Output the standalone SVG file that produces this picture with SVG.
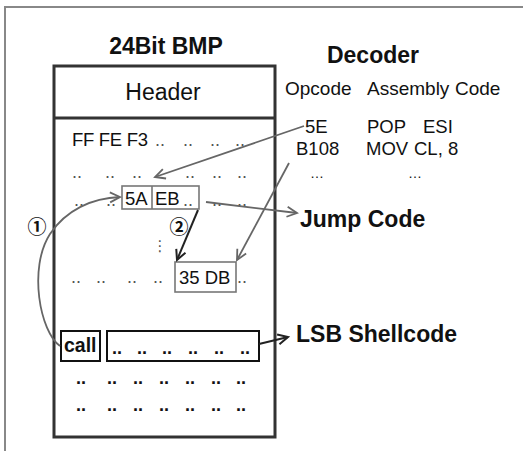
<svg xmlns="http://www.w3.org/2000/svg" width="523" height="451" viewBox="0 0 523 451">
<style>
.t{font-family:"Liberation Sans",Arial,sans-serif;fill:#111}
.b{font-weight:bold}
.g{font-family:"Liberation Sans",Arial,sans-serif;font-size:18px;fill:#555;text-anchor:middle}
.k{font-family:"Liberation Sans",Arial,sans-serif;font-size:18px;font-weight:bold;fill:#111;text-anchor:middle}
.num{font-family:"Noto Sans CJK JP","DejaVu Sans",sans-serif;font-size:19px;font-weight:bold;fill:#111;text-anchor:middle}
.ga{fill:none;stroke:#666;stroke-width:1.8;marker-end:url(#ag)}
.ka{fill:none;stroke:#222;stroke-width:2;marker-end:url(#ak)}
</style>
<defs>
<marker id="ag" markerUnits="userSpaceOnUse" markerWidth="14" markerHeight="14" refX="11" refY="6" orient="auto">
<path d="M1,1 L11,6 L1,11" fill="none" stroke="#666" stroke-width="1.8"/>
</marker>
<marker id="ak" markerUnits="userSpaceOnUse" markerWidth="14" markerHeight="14" refX="11" refY="6" orient="auto">
<path d="M1,1 L11,6 L1,11" fill="none" stroke="#222" stroke-width="2"/>
</marker>
</defs>
<rect width="523" height="451" fill="#fff"/>
<path d="M5,451 V7 H523" fill="none" stroke="#888" stroke-width="2"/>

<g id="bmp">
<text class="t b" x="166" y="54" font-size="23" text-anchor="middle">24Bit BMP</text>
<rect x="54" y="66" width="221" height="371" fill="none" stroke="#333" stroke-width="3"/>
<line x1="54" y1="118" x2="275" y2="118" stroke="#333" stroke-width="3"/>
<text class="t" x="163" y="100" font-size="23" text-anchor="middle">Header</text>
<text class="t" x="72" y="146" font-size="18.5" letter-spacing="-0.3">FF FE F3</text>
<text class="g" x="160" y="146">..</text><text class="g" x="188" y="146">..</text><text class="g" x="215" y="146">..</text><text class="g" x="240" y="146">..</text>
<text class="g" x="77" y="178">..</text><text class="g" x="110" y="178">..</text><text class="g" x="137" y="178">..</text><text class="g" x="190" y="178">..</text><text class="g" x="217" y="178">..</text><text class="g" x="242" y="178">..</text>
<text class="g" x="79" y="206">..</text><text class="g" x="111" y="206">..</text><text class="g" x="217" y="206">..</text><text class="g" x="242" y="206">..</text>
<text x="160" y="251" font-family="DejaVu Sans,sans-serif" font-size="15" fill="#555" text-anchor="middle">⋮</text>
<text class="g" x="76" y="283">..</text><text class="g" x="101" y="283">..</text><text class="g" x="132" y="283">..</text><text class="g" x="158" y="283">..</text><text class="g" x="242" y="283">..</text>
<text class="k" x="81" y="384">..</text><text class="k" x="112" y="384">..</text><text class="k" x="138" y="384">..</text><text class="k" x="164" y="384">..</text><text class="k" x="190" y="384">..</text><text class="k" x="216" y="384">..</text><text class="k" x="241" y="384">..</text>
<text class="k" x="81" y="411">..</text><text class="k" x="112" y="411">..</text><text class="k" x="138" y="411">..</text><text class="k" x="164" y="411">..</text><text class="k" x="190" y="411">..</text><text class="k" x="216" y="411">..</text><text class="k" x="241" y="411">..</text>
</g>

<g id="jump-box">
<rect x="122" y="186" width="77" height="23" fill="#fff" stroke="#777" stroke-width="1.6"/>
<line x1="152" y1="186" x2="152" y2="209" stroke="#777" stroke-width="1.6"/>
<text class="t" x="125" y="205" font-size="18.5">5A</text>
<text class="t" x="155" y="205" font-size="18.5">EB</text>
<text class="g" x="188" y="206">..</text>
</g>

<g id="target-box">
<rect x="175" y="262" width="61" height="30" fill="#fff" stroke="#777" stroke-width="1.6"/>
<text class="t" x="179" y="284" font-size="18.5">35 DB</text>
</g>

<g id="call-box">
<rect x="61" y="331" width="39" height="30" fill="#fff" stroke="#111" stroke-width="2"/>
<text class="t b" x="64" y="352" font-size="19.5">call</text>
</g>

<g id="shell-box">
<rect x="107" y="331" width="152" height="30" fill="#fff" stroke="#111" stroke-width="2"/>
<text class="k" x="117" y="354">..</text><text class="k" x="142" y="354">..</text><text class="k" x="167" y="354">..</text><text class="k" x="193" y="354">..</text><text class="k" x="219" y="354">..</text><text class="k" x="245" y="354">..</text>
</g>

<g id="decoder">
<text class="t b" x="373" y="63" font-size="23" text-anchor="middle">Decoder</text>
<text class="t" x="285" y="95" font-size="19">Opcode</text>
<text class="t" x="367" y="95" font-size="19">Assembly</text>
<text class="t" x="455" y="95" font-size="19">Code</text>
<text class="t" x="305" y="133" font-size="18.5">5E</text>
<text class="t" x="367" y="133" font-size="18.5">POP</text>
<text class="t" x="423" y="133" font-size="18.5">ESI</text>
<text class="t" x="296" y="155" font-size="18.5">B108</text>
<text class="t" x="366" y="155" font-size="18.5">MOV</text>
<text class="t" x="414" y="155" font-size="18.5">CL, 8</text>
<text class="t" x="310" y="178" font-size="14" fill="#555">…</text>
<text class="t" x="408" y="178" font-size="14" fill="#555">…</text>
</g>

<g id="labels">
<text class="t b" x="300" y="227" font-size="23">Jump Code</text>
<text class="t b" x="296" y="342" font-size="23">LSB Shellcode</text>
<text class="num" x="37" y="234">①</text>
<text class="num" x="179" y="234">②</text>
</g>

<g id="connectors">
<path class="ga" d="M304,126 L155,177"/>
<path class="ga" d="M289,163 L237,260"/>
<path class="ga" d="M206,202 L297,213"/>
<path class="ka" d="M198,210 L177,260"/>
<path class="ka" d="M259,344 L288,337"/>
<path class="ga" d="M60,346 C40,332 28,268 50,234 C66,210 92,198 120,197"/>
</g>
</svg>
